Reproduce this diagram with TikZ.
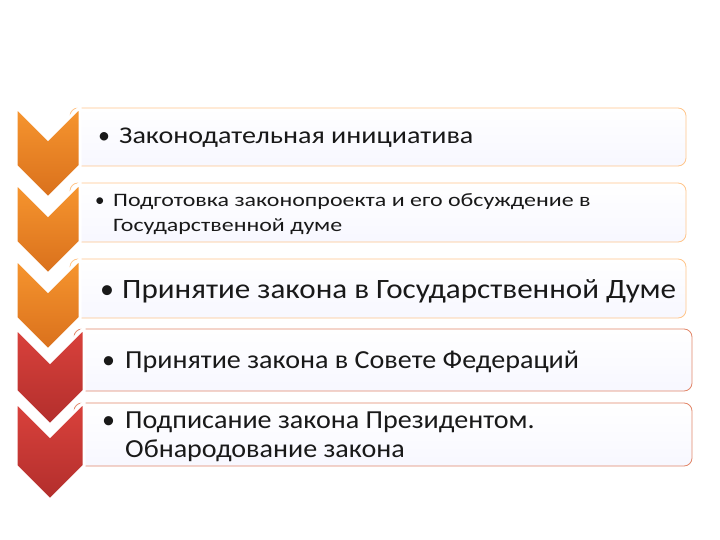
\documentclass[tikz,border=0pt]{standalone}
\usepackage{fontspec}
\setmainfont{Carlito}
\newcommand{\twol}[2]{\begin{tabular}[t]{@{}l@{}}#1\\#2\end{tabular}}
\begin{document}
\begin{tikzpicture}[x=1pt,y=-1pt,
  obox/.style={draw=orange!45!white,line width=0.8pt,rounded corners=8pt,top color=white,bottom color=blue!3!white},
  rbox/.style={draw=red!35!brown!70!white,line width=0.8pt,rounded corners=8pt,top color=white,bottom color=blue!3!white},
  ochev/.style={draw=white,line width=3pt,line join=miter,top color=ortop,bottom color=orbot},
  rchev/.style={draw=white,line width=3pt,line join=miter,top color=rdtop,bottom color=rdbot},
  txt/.style={anchor=base west,inner sep=0pt,text=black!90},
  bul/.style={anchor=base west,inner sep=0pt,text=black!90}]
\definecolor{ortop}{HTML}{F7962F}
\definecolor{orbot}{HTML}{D9701C}
\definecolor{rdtop}{HTML}{DA423C}
\definecolor{rdbot}{HTML}{B22E2C}
\useasboundingbox (0,0) rectangle (720,540);
\fill[white] (0,0) rectangle (720,540);
% boxes
\path[obox] (70,108) rectangle (686,166);
\path[obox] (70,183) rectangle (686,242);
\path[obox] (70,259) rectangle (686,318);
\path[rbox] (74,329) rectangle (692,391);
\path[rbox] (74,403) rectangle (692,466);
% chevrons (bottom first)
\path[rchev] (16,402) -- (50,436) -- (84,402) -- (84,466) -- (50,500) -- (16,466) -- cycle;
\path[rchev] (16,328) -- (50,362) -- (84,328) -- (84,391) -- (50,425) -- (16,391) -- cycle;
\path[ochev] (16,259) -- (48,291) -- (80,259) -- (80,318) -- (48,350) -- (16,318) -- cycle;
\path[ochev] (16,183) -- (48,215) -- (80,183) -- (80,242) -- (48,274) -- (16,242) -- cycle;
\path[ochev] (16,107) -- (48,139) -- (80,107) -- (80,166) -- (48,198) -- (16,166) -- cycle;
% texts
\node[bul,font=\fontsize{24}{26}\selectfont] (b1) at (98,144) {•};
\node[txt,font=\fontsize{24}{26}\selectfont\addfontfeature{FakeStretch=1.17}] (t1) at (119,144) {Законодательная инициатива};
\node[bul,font=\fontsize{19}{25}\selectfont] (b2) at (95,207) {•};
\node[txt,font=\fontsize{19}{25}\selectfont\addfontfeature{FakeStretch=1.26}] (t2) at (113,207) {\twol{Подготовка законопроекта и его обсуждение в}{Государственной думе}};
\node[bul,font=\fontsize{28}{30}\selectfont] (b3) at (100,298) {•};
\node[txt,font=\fontsize{28}{30}\selectfont\addfontfeature{FakeStretch=1.11}] (t3) at (122,298) {Принятие закона в Государственной Думе};
\node[bul,font=\fontsize{26}{29}\selectfont] (b4) at (102,368) {•};
\node[txt,font=\fontsize{26}{29}\selectfont\addfontfeature{FakeStretch=1.08}] (t4) at (125,368) {Принятие закона в Совете Федераций};
\node[bul,font=\fontsize{26}{29}\selectfont] (b5) at (102,428) {•};
\node[txt,font=\fontsize{26}{29}\selectfont\addfontfeature{FakeStretch=1.08}] (t5) at (125,428) {\twol{Подписание закона Президентом.}{Обнародование закона}};
\end{tikzpicture}
\end{document}
